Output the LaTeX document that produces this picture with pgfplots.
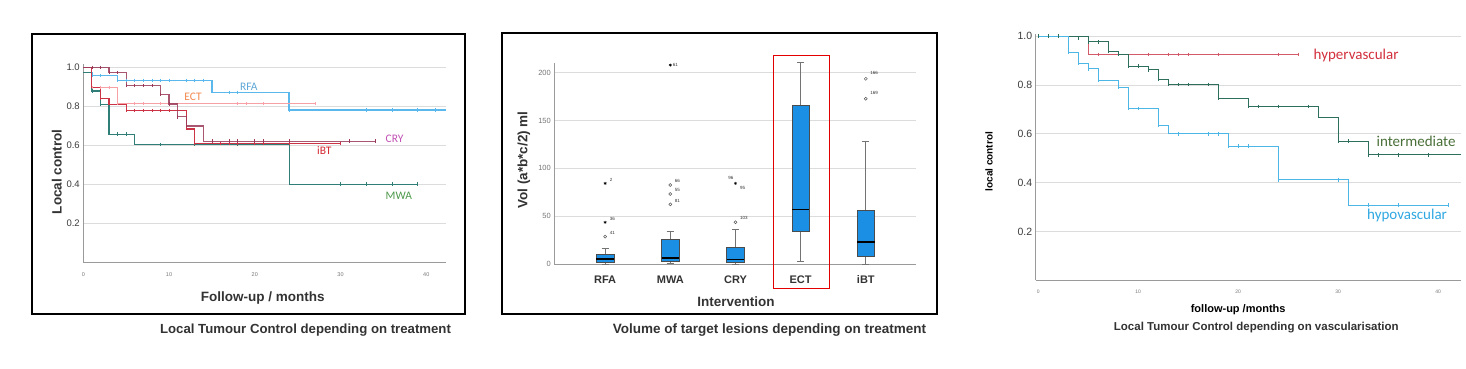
\documentclass[border=0pt]{standalone}
\usepackage{pgfplots}
\pgfplotsset{compat=1.18}
\usepgfplotslibrary{statistics}
\usepackage{fontspec}
\setmainfont{Liberation Sans}
\newfontfamily\calib{Carlito}
\definecolor{rfaline}{HTML}{5BB8EC}
\definecolor{rfalab}{HTML}{5FA8D8}
\definecolor{ectline}{HTML}{F7A1A4}
\definecolor{ectlab}{HTML}{F28A4E}
\definecolor{cryline}{HTML}{9A3A58}
\definecolor{crylab}{HTML}{C251B6}
\definecolor{ibtline}{HTML}{CC3344}
\definecolor{ibtlab}{HTML}{D3262F}
\definecolor{mwaline}{HTML}{2F7E78}
\definecolor{mwalab}{HTML}{4E9A4C}
\definecolor{hyperline}{HTML}{D35A69}
\definecolor{hyperlab}{HTML}{D3303D}
\definecolor{interline}{HTML}{2E6E5C}
\definecolor{interlab}{HTML}{4A7039}
\definecolor{hypoline}{HTML}{4CB6E6}
\definecolor{hypolab}{HTML}{2FA8E2}
\definecolor{boxblue}{HTML}{1A8FE3}
\definecolor{axgray}{HTML}{9A9A9A}
\definecolor{gridgray}{HTML}{DCDCDC}
\definecolor{tickdark}{HTML}{3C3C3C}
\definecolor{tickgray}{HTML}{777777}
\definecolor{labdark}{HTML}{333333}
\pgfplotsset{
  km/.style={
    scale only axis, axis lines*=left,
    axis line style={draw=axgray, line width=0.8pt},
    ymajorgrids, grid style={draw=gridgray, line width=0.8pt},
    major tick length=0pt,
    /pgf/number format/assume math mode=true,
    clip=false,
  },
  cens/.style={only marks, mark=|, mark size=1.8pt, mark options={line width=0.6pt}},
}
\begin{document}
\begin{tikzpicture}
\useasboundingbox (0pt,0pt) rectangle (1466pt,368pt);
\fill[white] (0pt,0pt) rectangle (1466pt,368pt);

% ================= Panel 1 =================
\begin{axis}[km,
  at={(83.3pt,105.8pt)}, anchor=south west, width=362.7pt, height=198.4pt,
  xmin=0, xmax=42.3, ymin=0, ymax=1.02,
  ytick={0.2,0.4,0.6,0.8,1.0}, yticklabels={0.2,0.4,0.6,0.8,1.0},
  xtick={0,10,20,30,40},
  yticklabel style={font=\fontsize{9.5}{10}\selectfont, text=tickdark},
  xticklabel style={font=\fontsize{5.5}{6}\selectfont, text=tickgray, yshift=-7pt},
  xlabel={Follow-up / months}, ylabel={Local control},
  xlabel style={at={(axis description cs:0.4946,-0.182)}, anchor=center, font=\bfseries\fontsize{13.5}{14}\selectfont, text=labdark},
  ylabel style={at={(axis description cs:-0.0733,0.456)}, anchor=center, font=\bfseries\fontsize{13.5}{14}\selectfont, text=labdark},
]
% RFA
\addplot[const plot, draw=rfaline, line width=1.3pt] coordinates {(0,0.976)(1,0.959)(4,0.935)(15,0.872)(24,0.783)(42.3,0.783)};
\addplot[cens, draw=rfaline] coordinates {(1,0.959)(2,0.959)(4,0.935)(5,0.935)(6,0.935)(7,0.935)(8,0.935)(9,0.935)(10,0.935)(12,0.935)(13,0.935)(14,0.935)(17,0.872)(18,0.872)(24,0.783)(33,0.783)(36,0.783)(39,0.783)(41,0.783)};
% ECT
\addplot[const plot, draw=ectline, line width=1.2pt] coordinates {(0,1.0)(1,0.899)(4,0.815)(27,0.815)};
\addplot[cens, draw=ectline] coordinates {(1,0.899)(2,0.899)(3,0.899)(4,0.815)(6,0.815)(7,0.815)(9,0.815)(10,0.815)(18,0.815)(19,0.815)(21,0.815)(27,0.815)};
% MWA
\addplot[const plot, draw=mwaline, line width=1.1pt] coordinates {(0,0.976)(1,0.880)(2,0.813)(3,0.658)(6,0.606)(24,0.401)(39,0.401)};
\addplot[cens, draw=mwaline] coordinates {(1,0.880)(2,0.813)(4,0.658)(5,0.658)(9,0.606)(13,0.606)(18,0.606)(24,0.606)(30,0.401)(33,0.401)(36,0.401)(39,0.401)};
% iBT
\addplot[const plot, draw=ibtline, line width=1.1pt] coordinates {(0,1.0)(1,0.899)(2,0.842)(3,0.813)(5,0.779)(12,0.685)(13,0.611)(30,0.611)};
\addplot[cens, draw=ibtline] coordinates {(2,0.842)(5,0.779)(6,0.779)(7,0.779)(8,0.779)(9,0.779)(10,0.779)(13,0.611)(16,0.611)(17,0.611)(18,0.611)(20,0.611)(21,0.611)(24,0.611)(30,0.611)};
% CRY
\addplot[const plot, draw=cryline, line width=1.2pt, opacity=0.85] coordinates {(0,1.0)(3,0.975)(5,0.908)(9,0.863)(10,0.813)(11,0.748)(12,0.700)(14,0.622)(34,0.622)};
\addplot[cens, draw=cryline] coordinates {(1,1.0)(2,1.0)(3,0.975)(4,0.975)(5,0.908)(6,0.908)(7,0.908)(8,0.908)(9,0.863)(10,0.813)(11,0.748)(15,0.622)(17,0.622)(18,0.622)(20,0.622)(21,0.622)(24,0.622)(31,0.622)(34,0.622)};
\node[text=rfalab, font=\calib\fontsize{11.5}{12}\selectfont] at (axis cs:19.3,0.902) {RFA};
\node[text=ectlab, font=\calib\fontsize{11.5}{12}\selectfont] at (axis cs:12.8,0.848) {ECT};
\node[text=crylab, font=\calib\fontsize{11.5}{12}\selectfont] at (axis cs:36.3,0.632) {CRY};
\node[text=ibtlab, font=\calib\fontsize{11.5}{12}\selectfont] at (axis cs:28.1,0.574) {iBT};
\node[text=mwalab, font=\calib\fontsize{11.5}{12}\selectfont] at (axis cs:36.8,0.342) {MWA};
\end{axis}

% ================= Panel 2 =================
\begin{axis}[
  at={(554.3pt,104pt)}, anchor=south west, scale only axis, width=361.7pt, height=201.3pt,
  xmin=0.22, xmax=5.77, ymin=0, ymax=210.5,
  axis lines*=left, axis line style={draw=axgray, line width=0.8pt},
  ymajorgrids, grid style={draw=gridgray, line width=0.8pt},
  major tick length=0pt,
  /pgf/number format/assume math mode=true,
  ytick={0,50,100,150,200},
  xtick={1,2,3,4,5}, xticklabels={RFA,MWA,CRY,ECT,iBT},
  yticklabel style={font=\fontsize{7.5}{8}\selectfont, text=tickgray},
  xticklabel style={font=\bfseries\fontsize{11}{12}\selectfont, text=labdark, yshift=-8pt},
  xlabel={Intervention}, ylabel={Vol (a*b*c/2) ml},
  xlabel style={at={(axis description cs:0.502,-0.187)}, anchor=center, font=\bfseries\fontsize{13.5}{14}\selectfont, text=labdark},
  ylabel style={at={(axis description cs:-0.0838,0.517)}, anchor=center, font=\bfseries\fontsize{13.5}{14}\selectfont, text=labdark},
  boxplot/draw direction=y,
  boxplot/every median/.style={black, line width=1.3pt},
  boxplot/every whisker/.style={draw=gray!90!black, line width=0.7pt},
  boxplot/every box/.style={draw=gray!60!black, line width=0.6pt, fill=boxblue},
  clip=false,
]
\addplot[boxplot prepared={draw position=1, lower whisker=0, lower quartile=1.7, median=5.2, upper quartile=10, upper whisker=16.4, box extend=0.27, whisker extend=0.11}] coordinates {};
\addplot[boxplot prepared={draw position=2, lower whisker=0.5, lower quartile=2.4, median=6.3, upper quartile=26.1, upper whisker=34.1, box extend=0.27, whisker extend=0.11}] coordinates {};
\addplot[boxplot prepared={draw position=3, lower whisker=0, lower quartile=1.4, median=4.5, upper quartile=17.8, upper whisker=36.6, box extend=0.27, whisker extend=0.11}] coordinates {};
\addplot[boxplot prepared={draw position=4, lower whisker=2.8, lower quartile=34.1, median=57.1, upper quartile=165.9, upper whisker=210.8, box extend=0.27, whisker extend=0.11}] coordinates {};
\addplot[boxplot prepared={draw position=5, lower whisker=0, lower quartile=7.7, median=23.0, upper quartile=56.4, upper whisker=128.2, box extend=0.27, whisker extend=0.11}] coordinates {};
% outliers: circles
\addplot[only marks, mark=o, mark size=1.5pt, draw=gray!70!black, mark options={line width=0.5pt}] coordinates {(1,28.6)(2,82.6)(2,73.2)(2,62.4)(3,43.6)(5,193.7)(5,172.8)};
% extremes: stars
\addplot[only marks, mark=asterisk, mark size=1.5pt, draw=black, mark options={line width=0.5pt}] coordinates {(1,43.6)(1,84.3)(2,208.0)(3,84.3)};
\begin{scope}[every node/.style={font=\fontsize{4.5}{5}\selectfont, text=labdark, inner sep=0.5pt, anchor=west}]
\node at (axis cs:1.06,87.5) {2};
\node at (axis cs:1.06,47.0) {36};
\node at (axis cs:1.06,32.0) {41};
\node at (axis cs:2.06,86.5) {66};
\node at (axis cs:2.06,77.0) {55};
\node at (axis cs:2.06,66.2) {81};
\node at (axis cs:2.03,208.0) {61};
\node[anchor=east] at (axis cs:2.98,89.5) {96};
\node at (axis cs:3.06,79.5) {95};
\node at (axis cs:3.06,48.0) {103};
\node at (axis cs:5.06,200.0) {166};
\node at (axis cs:5.06,179.0) {169};
\end{scope}
\end{axis}

% ================= Panel 3 =================
\begin{axis}[km,
  at={(1035.7pt,87.8pt)}, anchor=south west, width=425.3pt, height=246.4pt,
  xmin=-0.26, xmax=42.3, ymin=0, ymax=1.01,
  ytick={0.2,0.4,0.6,0.8,1.0}, yticklabels={0.2,0.4,0.6,0.8,1.0},
  xtick={0,10,20,30,40},
  yticklabel style={font=\fontsize{10.5}{11}\selectfont, text=tickdark},
  xticklabel style={font=\fontsize{5}{6}\selectfont, text=tickgray, yshift=-6pt},
  xlabel={follow-up /months}, ylabel={local control},
  xlabel style={at={(axis description cs:0.476,-0.121)}, anchor=center, font=\bfseries\fontsize{11}{12}\selectfont, text=black},
  ylabel style={at={(axis description cs:-0.110,0.481)}, anchor=center, font=\bfseries\fontsize{10}{11}\selectfont, text=black},
]
% hypervascular
\addplot[const plot, draw=hyperline, line width=0.9pt] coordinates {(0,1.0)(5,0.925)(26,0.925)};
\addplot[cens, draw=hyperline] coordinates {(6,0.925)(11,0.925)(13,0.925)(14,0.925)(15,0.925)(18,0.925)(24,0.925)(26,0.925)};
% intermediate
\addplot[const plot, draw=interline, line width=0.9pt] coordinates {(0,1.0)(5,0.977)(7,0.938)(8,0.925)(9,0.878)(11,0.862)(12,0.823)(13,0.803)(18,0.747)(21,0.712)(28,0.666)(30,0.570)(33,0.514)(42.3,0.514)};
\addplot[cens, draw=interline] coordinates {(0,1.0)(1,1.0)(2,1.0)(4,0.99)(5,0.977)(6,0.977)(7,0.938)(8,0.925)(9,0.878)(10,0.878)(11,0.862)(12,0.823)(13,0.803)(14,0.803)(15,0.803)(17,0.803)(18,0.747)(21,0.712)(22,0.712)(24,0.712)(27,0.712)(30,0.570)(31,0.570)(33,0.514)(34,0.514)(36,0.514)(39,0.514)};
% hypovascular
\addplot[const plot, draw=hypoline, line width=0.9pt] coordinates {(0,1.0)(3,0.934)(4,0.890)(5,0.866)(6,0.818)(8,0.790)(9,0.703)(12,0.636)(13,0.600)(19,0.549)(24,0.411)(31,0.308)(41,0.308)};
\addplot[cens, draw=hypoline] coordinates {(3,0.934)(4,0.890)(5,0.866)(6,0.818)(8,0.790)(9,0.703)(10,0.703)(12,0.636)(14,0.600)(17,0.600)(18,0.600)(19,0.549)(20,0.549)(21,0.549)(24,0.411)(30,0.411)(33,0.308)(36,0.308)(41,0.308)};
\node[text=hyperlab, font=\calib\fontsize{15}{16}\selectfont] at (axis cs:31.8,0.922) {hypervascular};
\node[text=interlab, font=\calib\fontsize{15}{16}\selectfont] at (axis cs:37.8,0.571) {intermediate};
\node[text=hypolab, font=\calib\fontsize{15}{16}\selectfont] at (axis cs:36.9,0.264) {hypovascular};
\end{axis}

% frames, highlight and captions
\draw[line width=2pt, black] (31.7pt,334pt) rectangle (465pt,54pt);
\draw[line width=2pt, black] (501.7pt,335.3pt) rectangle (936.7pt,54pt);
\draw[line width=1pt, red!90!black] (773.3pt,312.5pt) rectangle (829.3pt,79.7pt);
\node[font=\bfseries\fontsize{13.2}{14}\selectfont, text=labdark] at (305.5pt,38pt) {Local Tumour Control depending on treatment};
\node[font=\bfseries\fontsize{13.5}{14}\selectfont, text=labdark] at (769.5pt,38pt) {Volume of target lesions depending on treatment};
\node[font=\bfseries\fontsize{11.5}{12}\selectfont, text=labdark] at (1256.3pt,40.3pt) {Local Tumour Control depending on vascularisation};
\end{tikzpicture}
\end{document}
